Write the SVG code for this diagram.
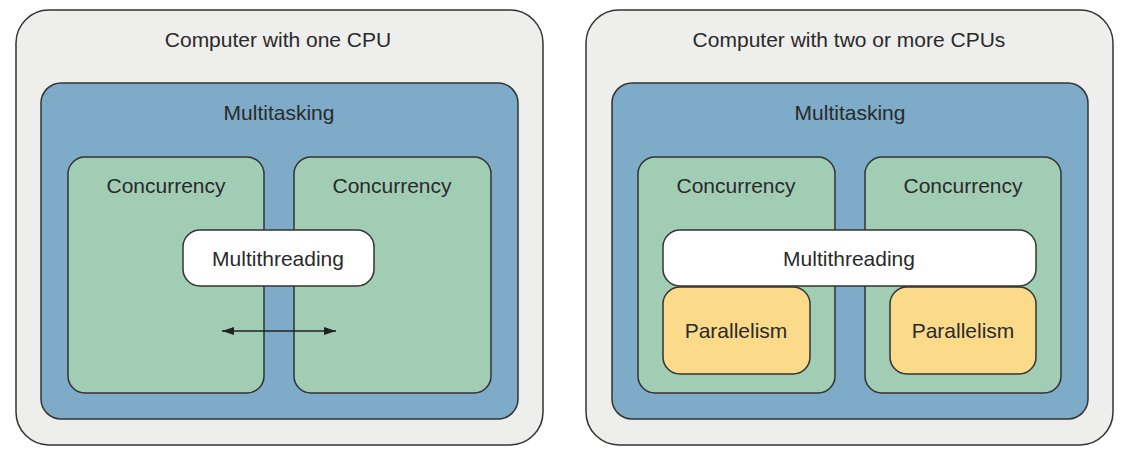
<svg xmlns="http://www.w3.org/2000/svg" width="1128" height="458" viewBox="0 0 1128 458">
<style>
.b{stroke:#333;stroke-width:1.5}
.outer{fill:#eeeeed}
.mt{fill:#7eabc7}
.cc{fill:#a1cdb5}
.th{fill:#ffffff}
.pl{fill:#fbda89}
text{font-family:"Liberation Sans",Arial,sans-serif;font-size:21px;fill:#2a2a2a;text-anchor:middle}
</style>
<defs>
<marker id="ah" viewBox="0 0 12 10" refX="12" refY="5" markerWidth="12" markerHeight="10" markerUnits="userSpaceOnUse" orient="auto-start-reverse">
<path d="M0,1 L12,5 L0,9 Z" fill="#222"/>
</marker>
</defs>
<g id="left-computer">
<rect class="b outer" x="16" y="10" width="527" height="435" rx="33"/>
<text x="278" y="47">Computer with one CPU</text>
</g>
<g id="left-multitasking">
<rect class="b mt" x="41" y="83" width="477" height="336" rx="20"/>
<text x="279" y="120">Multitasking</text>
</g>
<g id="left-concurrency-1">
<rect class="b cc" x="68" y="157" width="196" height="236" rx="17"/>
<text x="166" y="193">Concurrency</text>
</g>
<g id="left-concurrency-2">
<rect class="b cc" x="294" y="157" width="197" height="236" rx="17"/>
<text x="392" y="193">Concurrency</text>
</g>
<g id="left-multithreading">
<rect class="b th" x="183" y="230" width="191" height="56" rx="17"/>
<text x="278" y="266">Multithreading</text>
</g>
<g id="connectors">
<line x1="222" y1="331" x2="336" y2="331" stroke="#222" stroke-width="1.5" marker-start="url(#ah)" marker-end="url(#ah)"/>
</g>
<g id="right-computer">
<rect class="b outer" x="586" y="10" width="527" height="435" rx="33"/>
<text x="849" y="47">Computer with two or more CPUs</text>
</g>
<g id="right-multitasking">
<rect class="b mt" x="612" y="83" width="476" height="336" rx="20"/>
<text x="850" y="120">Multitasking</text>
</g>
<g id="right-concurrency-1">
<rect class="b cc" x="638" y="157" width="197" height="236" rx="17"/>
<text x="736" y="193">Concurrency</text>
</g>
<g id="right-concurrency-2">
<rect class="b cc" x="865" y="157" width="196" height="236" rx="17"/>
<text x="963" y="193">Concurrency</text>
</g>
<g id="right-multithreading">
<rect class="b th" x="663" y="230" width="373" height="56" rx="17"/>
<text x="849" y="266">Multithreading</text>
</g>
<g id="right-parallelism-1">
<rect class="b pl" x="663" y="287" width="147" height="87" rx="17"/>
<text x="736" y="338">Parallelism</text>
</g>
<g id="right-parallelism-2">
<rect class="b pl" x="890" y="287" width="146" height="87" rx="17"/>
<text x="963" y="338">Parallelism</text>
</g>
</svg>
